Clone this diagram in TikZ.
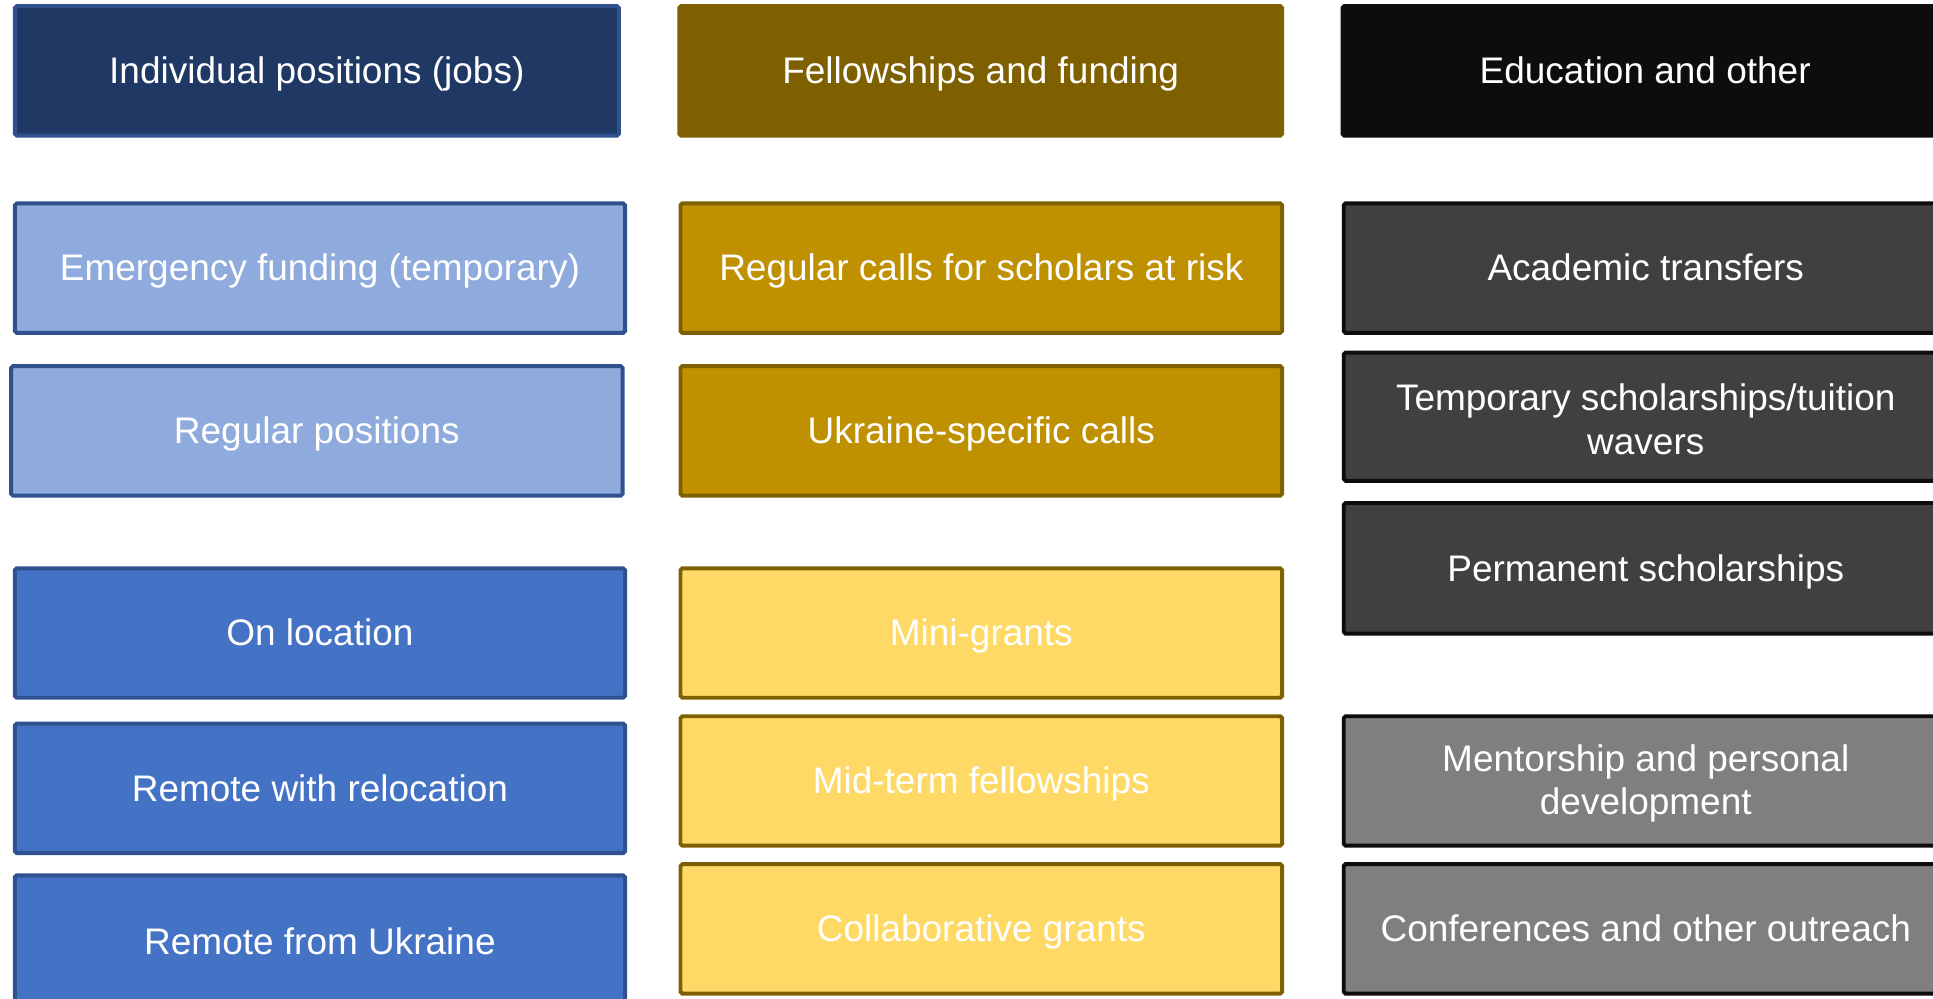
\documentclass[tikz,border=0pt]{standalone}
\usepackage{fontspec}
\setmainfont{Liberation Sans}
\definecolor{navy}{HTML}{203864}
\definecolor{blueline}{HTML}{2F528F}
\definecolor{lightblue}{HTML}{8FAADC}
\definecolor{midblue}{HTML}{4472C4}
\definecolor{goldhead}{HTML}{7F6000}
\definecolor{goldmid}{HTML}{BF9000}
\definecolor{goldlight}{HTML}{FFD966}
\definecolor{blackhead}{HTML}{0D0D0D}
\definecolor{darkgray}{HTML}{404040}
\definecolor{midgray}{HTML}{7F7F7F}
\tikzset{
  cell/.style={rectangle, rounded corners=1.5pt, line width=3.2pt, inner sep=0pt,
    text=white, align=center, font=\fontsize{30}{35}\selectfont},
  oneline/.style={text height=27.15pt, text depth=6.36pt},
  bluehead/.style={cell, fill=navy, draw=blueline},
  bluelight/.style={cell, fill=lightblue, draw=blueline},
  bluemid/.style={cell, fill=midblue, draw=blueline},
  goldh/.style={cell, fill=goldhead, draw=goldhead},
  goldm/.style={cell, fill=goldmid, draw=goldhead},
  goldl/.style={cell, fill=goldlight, draw=goldhead},
  grayh/.style={cell, fill=blackhead, draw=blackhead},
  grayd/.style={cell, fill=darkgray, draw=blackhead},
  graym/.style={cell, fill=midgray, draw=blackhead},
}
\newcommand{\topstrut}{\rule{0pt}{26pt}}
% \cellbox{style}{name}{x1}{y1}{x2}{y2}{text}
\newcommand{\cellbox}[7]{%
  \pgfmathsetmacro{\cx}{(#3+#5)/2}%
  \pgfmathsetmacro{\cy}{(#4+#6)/2}%
  \pgfmathsetmacro{\bw}{#5-#3}%
  \pgfmathsetmacro{\bh}{#6-#4}%
  \node[#1, minimum width=\bw pt, minimum height=\bh pt] (#2) at (\cx,\cy) {#7};%
}
\begin{document}
\begin{tikzpicture}[x=1pt,y=-1pt]
\useasboundingbox (0,0) rectangle (1568,810);
\clip (0,0) rectangle (1568,810);
\fill[white] (0,0) rectangle (1568,810);
% column 1
\cellbox{bluehead,oneline}{c1h}{12}{5}{502}{110}{Individual positions (jobs)}
\cellbox{bluelight,oneline}{c1a}{12}{165}{507}{270}{Emergency funding (temporary)}
\cellbox{bluelight,oneline}{c1b}{9}{297}{505}{402}{Regular positions}
\cellbox{bluemid,oneline}{c1c}{12}{461}{507}{566}{On location}
\cellbox{bluemid,oneline}{c1d}{12}{587}{507}{692}{Remote with relocation}
\cellbox{bluemid,oneline}{c1e}{12}{710}{507}{817}{Remote from Ukraine}
% column 2
\cellbox{goldh,oneline}{c2h}{551}{5}{1040}{110}{Fellowships and funding}
\cellbox{goldm,oneline}{c2a}{552}{165}{1040}{270}{Regular calls for scholars at risk}
\cellbox{goldm,oneline}{c2b}{552}{297}{1040}{402}{Ukraine-specific calls}
\cellbox{goldl,oneline}{c2c}{552}{461}{1040}{566}{Mini-grants}
\cellbox{goldl,oneline}{c2d}{552}{581}{1040}{686}{Mid-term fellowships}
\cellbox{goldl,oneline}{c2e}{552}{701}{1040}{806}{Collaborative grants}
% column 3
\cellbox{grayh,oneline}{c3h}{1089}{5}{1580}{110}{Education and other}
\cellbox{grayd,oneline}{c3a}{1090}{165}{1580}{270}{Academic transfers}
\cellbox{grayd}{c3b}{1090}{286}{1580}{390}{\topstrut Temporary scholarships/tuition\\wavers}
\cellbox{grayd,oneline}{c3c}{1090}{408}{1580}{514}{Permanent scholarships}
\cellbox{graym}{c3d}{1090}{581}{1580}{686}{\topstrut Mentorship and personal\\development}
\cellbox{graym,oneline}{c3e}{1090}{701}{1580}{806}{Conferences and other outreach}
\end{tikzpicture}
\end{document}
